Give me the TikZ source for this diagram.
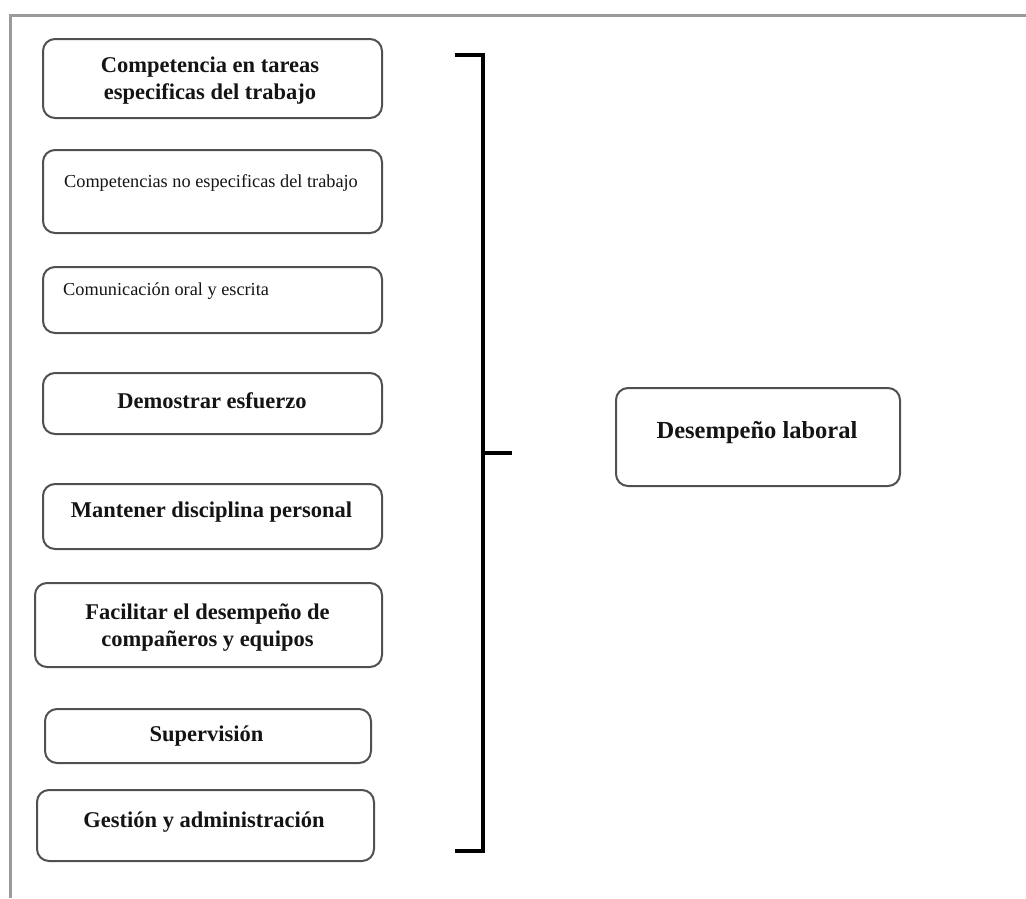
\documentclass[tikz,border=0pt]{standalone}
\usepackage{fontspec}
\setmainfont{Liberation Serif}
\definecolor{framegray}{HTML}{9A9A9A}
\definecolor{boxgray}{HTML}{505050}
\definecolor{ink}{HTML}{141414}
\tikzset{
  box/.style={draw=boxgray, line width=2pt, rounded corners=12pt, inner sep=0pt, fill=none},
  bold/.style={text=ink, inner sep=0pt, font=\fontsize{22.5}{27}\selectfont\bfseries, align=center},
  plain/.style={text=ink, inner sep=0pt, font=\fontsize{18.3}{22}\selectfont},
  bracket/.style={draw=black, line width=3.2pt},
  frame/.style={draw=framegray, line width=3pt}
}
\begin{document}
\begin{tikzpicture}[x=1pt,y=-1pt]
\useasboundingbox (0,0) rectangle (1026,898);
% outer frame (top and left only)
\coordinate (fbl) at (10,898);
\coordinate (ftl) at (10,15);
\coordinate (ftr) at (1026,15);
\draw[frame] (fbl) -- (ftl) -- (ftr);

% boxes
\node[box, minimum width=339pt, minimum height=79pt] (b1) at (212.5,78.5) {};
\node[box, minimum width=339pt, minimum height=83pt] (b2) at (212.5,191.5) {};
\node[box, minimum width=339pt, minimum height=66pt] (b3) at (212.5,300) {};
\node[box, minimum width=339pt, minimum height=61pt] (b4) at (212.5,403.5) {};
\node[box, minimum width=339pt, minimum height=65pt] (b5) at (212.5,516.5) {};
\node[box, minimum width=347pt, minimum height=84pt] (b6) at (208.5,625) {};
\node[box, minimum width=326pt, minimum height=54pt] (b7) at (208,736) {};
\node[box, minimum width=337pt, minimum height=71pt] (b8) at (205.5,825.5) {};
\node[box, minimum width=284pt, minimum height=98pt] (dl) at (758,437) {};

% texts
\node[bold, anchor=center] (t1) at (210,81) {Competencia en tareas\\especificas del trabajo};
\node[plain, anchor=base] (t2) at (211,187) {Competencias no especificas del trabajo};
\node[plain, anchor=base west] (t3) at (63,295) {Comunicación oral y escrita};
\node[bold, anchor=base] (t4) at (212,408) {Demostrar esfuerzo};
\node[bold, anchor=base] (t5) at (211.5,517) {Mantener disciplina personal};
\node[bold, anchor=center] (t6) at (207.5,628) {Facilitar el desempeño de\\compañeros y equipos};
\node[bold, anchor=base] (t7) at (206.5,741) {Supervisión};
\node[bold, anchor=base] (t8) at (204,827) {Gestión y administración};
\node[bold, anchor=base, font=\fontsize{24.5}{29}\selectfont\bfseries] (t9) at (757,438) {Desempeño laboral};

% bracket
\coordinate (btop) at (455,55);
\coordinate (vtop) at (483,55);
\coordinate (vbot) at (483,851);
\coordinate (bbot) at (455,851);
\coordinate (bmid) at (483,453);
\coordinate (bout) at (512,453);
\draw[bracket] (btop) -- (vtop) -- (vbot) -- (bbot);
\draw[bracket] (bmid) -- (bout);
\end{tikzpicture}
\end{document}
